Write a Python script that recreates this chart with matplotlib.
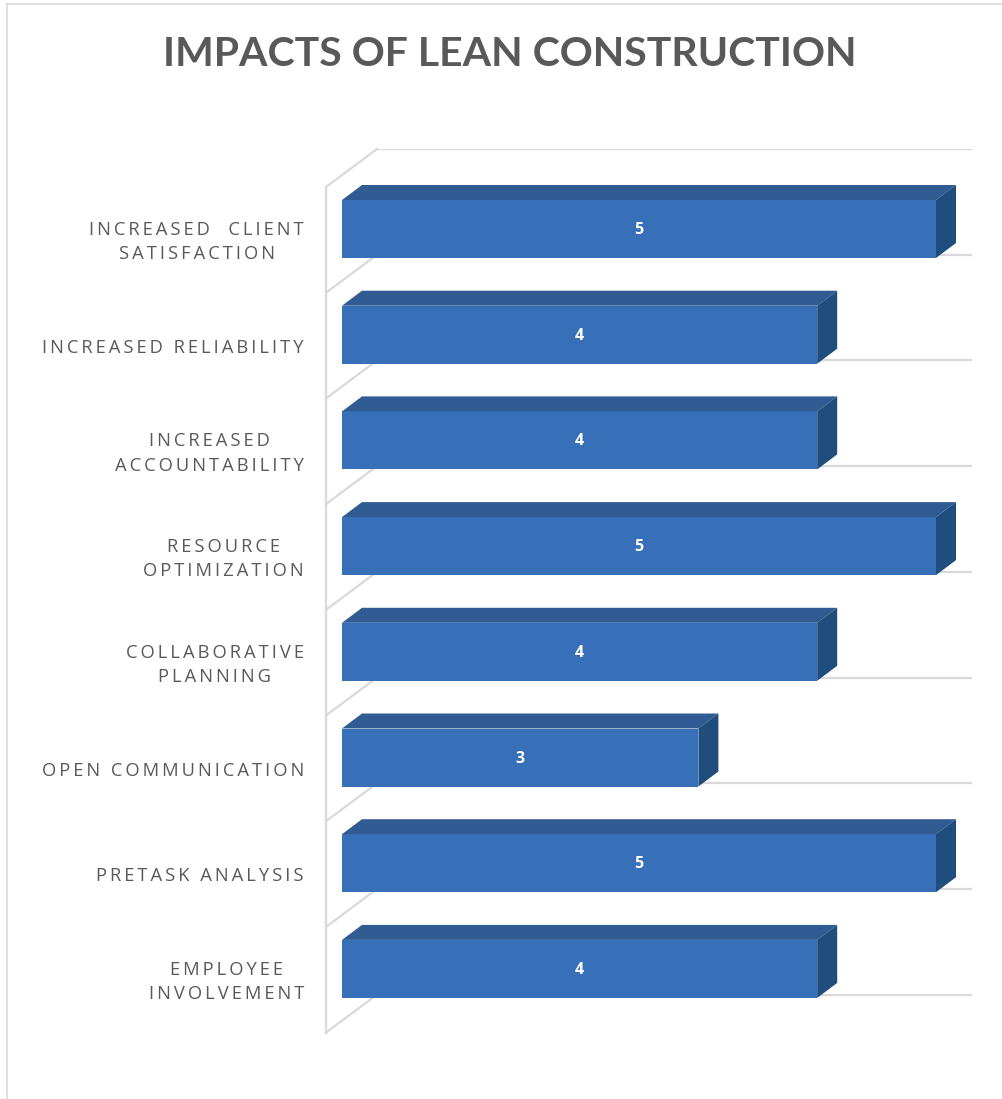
import matplotlib
matplotlib.use("Agg")
import matplotlib.pyplot as plt
from matplotlib.patches import Polygon
from matplotlib.lines import Line2D
import numpy as np

# chart data
categories = ["INCREASED  CLIENT\nSATISFACTION", "INCREASED RELIABILITY",
              "INCREASED\nACCOUNTABILITY", "RESOURCE\nOPTIMIZATION",
              "COLLABORATIVE\nPLANNING", "OPEN COMMUNICATION",
              "PRETASK ANALYSIS", "EMPLOYEE\nINVOLVEMENT"]
values = [5, 4, 4, 5, 4, 3, 5, 4]
title = "IMPACTS OF LEAN CONSTRUCTION"

FRONT = "#3770B8"
TOP = "#305C93"
SIDE = "#1F4D7D"
GRID = "#D9D9D9"
TEXT = "#595959"


def spaced(s):
    # emulate the wide letter spacing of the original labels
    return "\n".join("\u2009".join(line) for line in s.split("\n"))


W, H = 1003, 1099
fig = plt.figure(figsize=(W / 100, H / 100), dpi=100)

# plot box in pixels: front edge of side wall to end of back gridlines
L, R, T, B = 326, 972, 149, 1033
ax = fig.add_axes([L / W, 1 - B / H, (R - L) / W, (B - T) / H])
px_val = 118.8   # pixels per value unit
px_cat = 105.7   # pixels per category
x0, y0 = 342, 229
ax.set_xlim((L - x0) / px_val, (R - x0) / px_val)
ax.set_ylim((B - y0) / px_cat, (T - y0) / px_cat)
ax.axis("off")

bdx, bdy = 20 / px_val, 15 / px_cat      # bar depth
wdx, wdy = 51 / px_val, 38 / px_cat      # wall depth
xmin = ax.get_xlim()[0]
xmax = ax.get_xlim()[1]
xback = xmin + wdx

# back gridlines and side wall
n = len(values)
for k in range(n + 1):
    yk = (T - y0) / px_cat + k
    ax.plot([xback, xmax], [yk, yk], color=GRID, lw=1.6, zorder=1,
            solid_capstyle="butt")
    ax.plot([xmin, xback], [yk + wdy, yk], color=GRID, lw=1.6, zorder=1,
            clip_on=False)
ax.plot([xmin, xmin], [(T - y0) / px_cat + wdy, (B - y0) / px_cat],
        color=GRID, lw=1.6, zorder=1, clip_on=False)

# bars
pos = np.arange(n)
h = 58 / px_cat
ax.barh(pos, values, height=h, color=FRONT, zorder=3)
for p, v in zip(pos, values):
    top = p - h / 2
    bot = p + h / 2
    ax.add_patch(Polygon([(0, top), (bdx, top - bdy), (v + bdx, top - bdy), (v, top)],
                         closed=True, facecolor=TOP, edgecolor="none", zorder=3))
    ax.add_patch(Polygon([(v, top), (v + bdx, top - bdy), (v + bdx, bot - bdy), (v, bot)],
                         closed=True, facecolor=SIDE, edgecolor="none", zorder=3))
    ax.text(v / 2, p + 1 / px_cat, str(v), color="white", fontsize=11.5,
            fontweight="bold", ha="center", va="center", zorder=4,
            family=["Open Sans", "DejaVu Sans"])

# category labels
label_x = (304 - x0) / px_val
for p, lab in zip(pos, categories):
    ax.text(label_x, p + 13 / px_cat, spaced(lab), ha="right", va="center",
            multialignment="center", fontsize=13.2, color=TEXT, linespacing=1.47,
            family=["Open Sans", "DejaVu Sans"], clip_on=False)

fig.text(510 / W, 1 - 54 / H, title, ha="center", va="center", fontsize=29.5,
         fontweight="bold", color=TEXT, family=["Lato", "DejaVu Sans"])

# chart area border (cut by the image on the right and bottom)
fig.add_artist(Line2D([7 / W, 7 / W], [0, 1 - 4 / H], transform=fig.transFigure,
                      color=GRID, lw=1.2))
fig.add_artist(Line2D([7 / W, 1], [1 - 4 / H, 1 - 4 / H], transform=fig.transFigure,
                      color=GRID, lw=1.2))

fig.savefig("out.png", dpi=100, facecolor="white")
